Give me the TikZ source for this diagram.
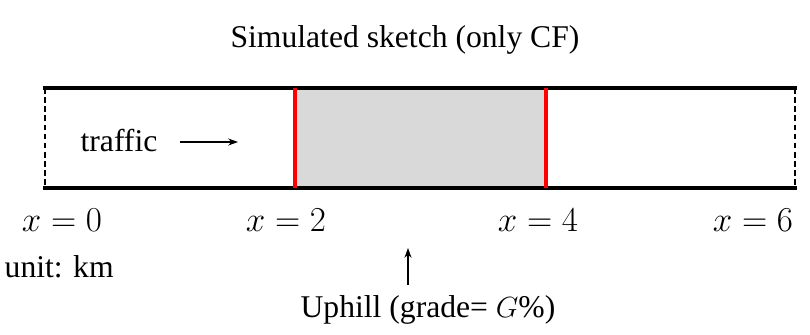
\documentclass[tikz,border=0pt]{standalone}
\usepackage{fontspec}
\setmainfont{Liberation Serif}
\usetikzlibrary{arrows.meta}
\definecolor{roadgray}{HTML}{D9D9D9}
\definecolor{gradered}{HTML}{FF0000}

\begin{document}
\begin{tikzpicture}[x=0.025cm, y=-0.025cm, >={Stealth[length=7pt,width=5pt]},
                    road edge/.style={line width=3pt, line cap=rect},
                    road end/.style={line width=1pt, dash pattern=on 4pt off 2.5pt},
                    grade mark/.style={gradered, line width=3pt},
                    lbl/.style={font=\fontsize{22.5}{27}\selectfont, inner sep=1pt},
                    pos lbl/.style={font=\fontsize{27}{32}\selectfont, inner sep=1pt},
                    flow/.style={->, line width=0.8pt}]

  \useasboundingbox (0,0) rectangle (810,335);

  % Tratto in salita
  \fill[roadgray] (297,90) rectangle (545,187);

  % Bordi della strada
  \draw[road edge] (45,88) -- (795,88);
  \draw[road edge] (45,188) -- (795,188);
  \draw[road end] (45,88) -- (45,188);
  \draw[road end] (795,88) -- (795,188);
  \draw[grade mark] (295,88) -- (295,188);
  \draw[grade mark] (546,88) -- (546,188);

  \node[lbl] (title) at (405,40) {Simulated sketch (only CF)};
  \node[lbl] (traffic) at (119,141) {traffic};
  \coordinate (flowstart) at (180,142);
  \coordinate (flowend) at (238,142);

  % Posizioni
  \node[pos lbl] (x0) at (62,220) {$x=0$};
  \node[pos lbl] (x2) at (286,220) {$x=2$};
  \node[pos lbl] (x4) at (538,220) {$x=4$};
  \node[pos lbl] (x6) at (753,220) {$x=6$};
  \node[lbl, anchor=west] (unit) at (3,267) {unit: km};

  \node[lbl] (uphill) at (428,310) {Uphill (grade= $G$\%)};
  \coordinate (upbase) at (408,285);
  \coordinate (uptip) at (408,248);

  \draw[flow] (flowstart) -- (flowend);
  \draw[flow] (upbase) -- (uptip);

\end{tikzpicture}
\end{document}
